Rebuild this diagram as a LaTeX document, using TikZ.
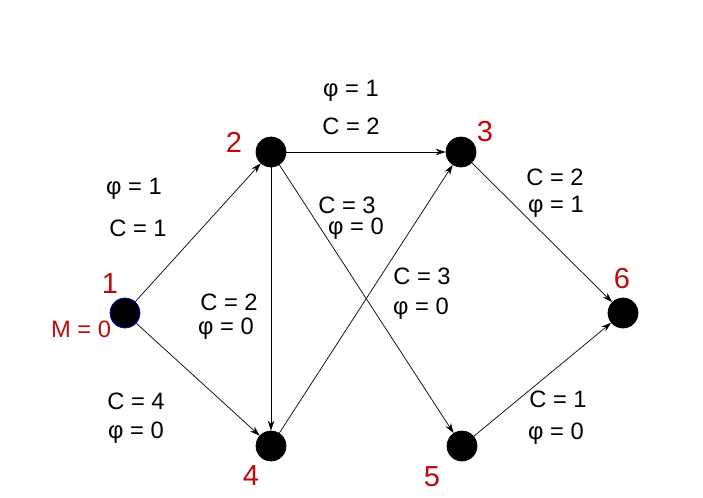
\documentclass[tikz,border=0pt]{standalone}
\usepackage{fontspec}
\setmainfont{Liberation Sans}
\usetikzlibrary{arrows.meta}
\definecolor{numred}{RGB}{190,10,10}
\begin{document}
\begin{tikzpicture}[
    x=0.02cm, y=-0.02cm,
    vertex/.style={circle, fill=black, draw=black, minimum size=0.6cm, inner sep=0pt},
    weight/.style={font=\fontsize{13.5}{15}\selectfont, inner sep=0pt},
    number/.style={font=\fontsize{16.5}{18}\selectfont, text=numred, inner sep=0pt},
    arrow/.style={-{Stealth[length=2mm, width=1.3mm]}, thin}
]
\useasboundingbox (0,0) rectangle (703,497);

% Vertices
\node[vertex, draw=blue] (v1) at (125,313) {};
\node[vertex] (v2) at (271,152) {};
\node[vertex] (v3) at (461,152) {};
\node[vertex] (v4) at (271,446) {};
\node[vertex] (v5) at (462,446) {};
\node[vertex] (v6) at (623,313) {};

% Vertex numbers
\node[number] (n1) at (110,284) {1};
\node[number] (n2) at (234,142) {2};
\node[number] (n3) at (485,132) {3};
\node[number] (n4) at (251,476) {4};
\node[number] (n5) at (432,477) {5};
\node[number] (n6) at (622,279) {6};
\node[weight, text=numred] (mark) at (81,329) {M = 0};

% Connections
\draw[arrow] (v1) -- (v2);
\draw[arrow] (v1) -- (v4);
\draw[arrow] (v2) -- (v3);
\draw[arrow] (v2) -- (v4);
\draw[arrow] (v2) -- (v5);
\draw[arrow] (v4) -- (v3);
\draw[arrow] (v3) -- (v6);
\draw[arrow] (v5) -- (v6);

% Edge weights
\node[weight] (p23) at (351,91) {φ = 1};
\node[weight] (c23) at (351,126) {C = 2};
\node[weight] (p12) at (134,189) {φ = 1};
\node[weight] (c12) at (138,228) {C = 1};
\node[weight] (c25) at (347,205) {C = 3};
\node[weight] (p25) at (356,229) {φ = 0};
\node[weight] (c24) at (229,302) {C = 2};
\node[weight] (p24) at (226,329) {φ = 0};
\node[weight] (c43) at (422,276) {C = 3};
\node[weight] (p43) at (421,309) {φ = 0};
\node[weight] (c36) at (555,177) {C = 2};
\node[weight] (p36) at (556,207) {φ = 1};
\node[weight] (c14) at (136,401) {C = 4};
\node[weight] (p14) at (136,433) {φ = 0};
\node[weight] (c56) at (558,399) {C = 1};
\node[weight] (p56) at (556,434) {φ = 0};

\end{tikzpicture}
\end{document}
